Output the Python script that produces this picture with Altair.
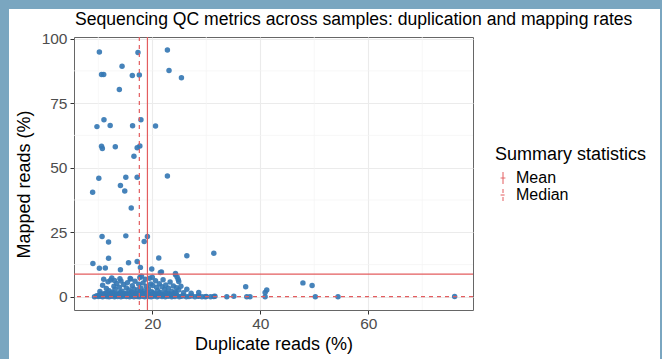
import altair as alt
import pandas as pd

# ---------------- data ----------------
# upper / scattered samples
up_dup = [10.2, 17.35, 22.8, 14.4, 10.6, 11.0, 16.3, 17.6, 23.1, 25.4, 13.9,
          11.05, 9.75, 12.2, 16.35, 17.9, 20.6, 10.6, 10.75, 13.15, 17.2, 17.7,
          16.6, 10.1, 15.1, 17.2, 22.8, 8.95, 14.1, 14.9, 16.1, 10.7, 11.9, 15.1,
          18.5, 19.1, 9.0, 10.2, 11.3, 11.9, 14.1, 15.6, 17.2, 17.8, 21.2, 19.9,
          21.7, 24.3, 24.6, 26.4, 31.4, 28.6, 37.3, 40.9, 47.9, 49.6, 50.2, 54.4,
          76.0, 33.8, 35.1, 37.5, 38.1, 29.8, 31.4, 40.9, 21.5, 24.3, 24.8, 24.9,
          41.2, 28.6]
up_map = [94.8, 94.6, 95.6, 89.3, 86.1, 86.1, 85.7, 85.9, 87.6, 84.8, 80.3,
          68.6, 65.9, 66.3, 66.2, 68.6, 66.1, 58.3, 57.4, 58.1, 57.7, 58.4,
          54.4, 45.9, 46.3, 46.3, 46.8, 40.5, 43.1, 41.0, 34.4, 23.4, 21.2, 23.6,
          21.4, 23.4, 12.9, 11.1, 11.2, 14.9, 10.5, 13.2, 13.7, 11.4, 15.0, 10.8,
          9.6, 8.5, 7.7, 15.9, 16.9, 1.7, 3.9, 1.7, 5.4, 4.4, 0.0, 0.0,
          0.1, 0.0, 0.2, 0.0, 0.0, 0.0, 0.1, 0.0, 9.4, 9.0, 6.7, 5.9,
          2.6, 0.3]

# band of low mapping rates (1-8 %)
band_dup = [10.3, 10.8, 11.2, 11.5, 11.8, 12.0, 12.3, 12.6, 12.9, 13.1,
            13.4, 13.7, 13.9, 14.2, 14.4, 14.7, 14.9, 15.2, 15.4, 15.7,
            15.9, 16.1, 16.3, 16.6, 16.8, 17.0, 17.3, 17.5, 17.7, 17.9,
            18.1, 18.3, 18.5, 18.7, 18.9, 19.1, 19.3, 19.5, 19.7, 19.9,
            20.1, 20.3, 20.6, 20.8, 21.0, 21.3, 21.5, 21.8, 22.0, 22.3,
            22.5, 22.8, 23.0, 23.3, 23.6, 23.9, 24.2, 24.5, 24.9, 25.3,
            25.8, 26.4, 27.2, 16.0, 14.0, 12.5, 18.0, 20.0, 11.0, 13.0]
band_map = [2.1, 4.5, 1.3, 3.2, 5.8, 2.4, 6.5, 1.8, 4.1, 2.9,
            5.2, 1.5, 3.7, 6.1, 2.2, 4.8, 1.2, 3.4, 5.5, 2.6,
            7.1, 1.9, 4.3, 3.0, 6.0, 1.4, 2.7, 4.9, 7.5, 3.3,
            1.6, 5.4, 2.3, 6.8, 4.0, 1.8, 3.1, 7.2, 5.0, 2.0,
            4.4, 1.3, 6.2, 3.6, 2.5, 5.1, 1.7, 3.9, 6.6, 2.8,
            4.6, 1.5, 3.3, 5.7, 2.1, 4.2, 1.9, 3.5, 2.6, 4.1,
            1.6, 2.9, 1.4, 6.9, 7.0, 7.3, 8.0, 7.6, 6.8, 6.3]

# samples with (almost) no mapped reads
zero_dup = [9.3, 9.7, 10.0, 10.2, 10.4, 10.6, 10.8, 11.0, 11.2, 11.4,
            11.6, 11.8, 12.0, 12.2, 12.4, 12.6, 12.8, 13.0, 13.2, 13.4,
            13.6, 13.8, 14.0, 14.2, 14.4, 14.6, 14.8, 15.0, 15.2, 15.4,
            15.6, 15.8, 16.0, 16.2, 16.4, 16.6, 16.8, 17.0, 17.2, 17.4,
            17.6, 17.8, 18.0, 18.2, 18.4, 18.6, 18.8, 19.0, 19.2, 19.4,
            19.6, 19.8, 20.0, 20.3, 20.6, 20.9, 21.2, 21.5, 21.8, 22.1,
            22.4, 22.7, 23.0, 23.3, 23.6, 23.9, 24.2, 24.6, 25.0, 25.4,
            25.8, 26.3, 26.8, 27.3, 27.9, 28.5, 29.2, 30.0, 30.8, 31.6,
            10.5, 11.1, 11.7, 12.3, 12.9, 13.5, 14.1, 14.7, 15.3, 15.9,
            16.5, 17.1, 17.7, 18.3, 18.9, 19.5, 20.1, 20.7, 21.3, 21.9,
            22.5, 23.1, 23.7, 24.4]
zero_map = [0.0, 0.4, 0.1, 0.7, 0.2, 0.9, 0.0, 0.5, 0.3, 1.1,
            0.1, 0.6, 0.0, 0.8, 0.2, 0.4, 1.0, 0.0, 0.3, 0.7,
            0.1, 0.5, 0.9, 0.0, 0.6, 0.2, 0.4, 1.0, 0.1, 0.3,
            0.8, 0.0, 0.5, 0.2, 0.7, 0.0, 1.1, 0.3, 0.1, 0.6,
            0.0, 0.4, 0.9, 0.2, 0.5, 0.0, 0.7, 0.3, 1.0, 0.1,
            0.4, 0.0, 0.6, 0.2, 0.8, 0.0, 0.3, 0.5, 0.1, 0.7,
            0.0, 0.4, 0.2, 0.6, 0.0, 0.3, 0.1, 0.5, 0.0, 0.2,
            0.4, 0.0, 0.1, 0.3, 0.0, 0.2, 0.0, 0.1, 0.0, 0.2,
            1.2, 0.9, 1.6, 1.0, 1.4, 0.8, 1.7, 1.1, 1.3, 0.9,
            1.5, 1.2, 1.8, 1.0, 1.4, 0.8, 1.6, 1.1, 1.3, 0.9,
            1.5, 1.2, 1.0, 1.4]

dup_pct = up_dup + band_dup + zero_dup
mapped_pct = up_map + band_map + zero_map

stat_names = ["Mean", "Median"]
stat_dup = [19.1, 17.6]
stat_mapped = [8.8, 0.1]

x_major = [20, 40, 60]
x_minor = [10, 30, 50, 70]
y_major = [0, 25, 50, 75, 100]
y_minor = [12.5, 37.5, 62.5, 87.5]

title_text = "Sequencing QC metrics across samples: duplication and mapping rates"

# ---------------- chart ----------------
FONT = "Liberation Sans"
RED = "#e35d5f"
BLUE = "#3678b4"
FRAME = "#7aa6c0"

pts = pd.DataFrame({"dup": dup_pct, "mapped": mapped_pct})
stats = pd.DataFrame({"stat": stat_names, "dup": stat_dup, "mapped": stat_mapped})
xmin = pd.DataFrame({"gx": x_minor})
ymin = pd.DataFrame({"gy": y_minor})

xscale = alt.Scale(domain=[5.5, 79.4], nice=False, zero=False)
yscale = alt.Scale(domain=[-5.1, 100.6], nice=False, zero=False)

xaxis = alt.Axis(values=x_major, title="Duplicate reads (%)", grid=True,
                 gridColor="#ebebeb", gridWidth=1.1, domain=False,
                 tickColor="#333333", tickSize=4, labelFontSize=15.5,
                 labelColor="#4d4d4d", labelPadding=2, labelFont=FONT,
                 titleFont=FONT, titleFontSize=18, titleFontWeight="normal",
                 titleColor="#000000", titleBaseline="alphabetic", titleY=39)
yaxis = alt.Axis(values=y_major, title="Mapped reads (%)", grid=True,
                 gridColor="#ebebeb", gridWidth=1.1, domain=False,
                 tickColor="#333333", tickSize=4, labelFontSize=15.5,
                 labelColor="#4d4d4d", labelPadding=3, labelFont=FONT,
                 titleFont=FONT, titleFontSize=18, titleFontWeight="normal",
                 titleColor="#000000", titleBaseline="alphabetic",
                 titleX=-45, titleY=147, titleAngle=270)

X = lambda f: alt.X(f, type="quantitative", scale=xscale, axis=xaxis)
Y = lambda f: alt.Y(f, type="quantitative", scale=yscale, axis=yaxis)

one = pd.DataFrame({"k": [0]})
frame_top = alt.Chart(one).mark_rect(color=FRAME).encode(
    x=alt.value(-74), x2=alt.value(588), y=alt.value(-37), y2=alt.value(-28))
frame_left = alt.Chart(one).mark_rect(color=FRAME).encode(
    x=alt.value(-74), x2=alt.value(-65), y=alt.value(-37), y2=alt.value(322))
frame_right = alt.Chart(one).mark_rect(color=FRAME).encode(
    x=alt.value(586), x2=alt.value(588), y=alt.value(-37), y2=alt.value(322))

title = alt.Chart(pd.DataFrame({"t": [title_text]})).mark_text(
    font=FONT, fontSize=17.6, color="#000000", align="left", baseline="alphabetic"
).encode(text="t:N", x=alt.value(1), y=alt.value(-12))

gx = alt.Chart(xmin).mark_rule(color="#f4f4f4", strokeWidth=0.7).encode(x=X("gx"))
gy = alt.Chart(ymin).mark_rule(color="#f4f4f4", strokeWidth=0.7).encode(y=Y("gy"))

points = alt.Chart(pts).mark_circle(size=30, color=BLUE, opacity=0.92).encode(
    x=X("dup"), y=Y("mapped"))

dash = alt.StrokeDash("stat:N",
                      scale=alt.Scale(domain=stat_names, range=[[1, 0], [4, 4]]),
                      legend=alt.Legend(title="Summary statistics", orient="none",
                                        legendX=421, legendY=109,
                                        titleFont=FONT, titleFontSize=18,
                                        titleFontWeight="normal", titleColor="#000000",
                                        titlePadding=6,
                                        labelFont=FONT, labelFontSize=16,
                                        labelColor="#000000", labelOffset=5,
                                        symbolType="M0,-1L0,1M-0.4,0L0.4,0",
                                        symbolSize=144, symbolStrokeColor=RED,
                                        symbolStrokeWidth=1,
                                        symbolFillColor="transparent",
                                        rowPadding=1))

vlines = alt.Chart(stats).mark_rule(color=RED, strokeWidth=1.2).encode(
    x=X("dup"), strokeDash=dash)
hlines = alt.Chart(stats).mark_rule(color=RED, strokeWidth=1.2).encode(
    y=Y("mapped"), strokeDash=dash)

chart = alt.layer(frame_top, frame_left, frame_right, title, gx, gy, points,
                  hlines, vlines).properties(
    width=399, height=273,
    padding={"left": 74, "top": 37, "right": 189, "bottom": 49},
    autosize=alt.AutoSizeParams(type="none"),
    background="white",
).configure_view(stroke="#666666", strokeWidth=1)

chart.save("out.html", embed_options={"renderer": "svg", "actions": False})
